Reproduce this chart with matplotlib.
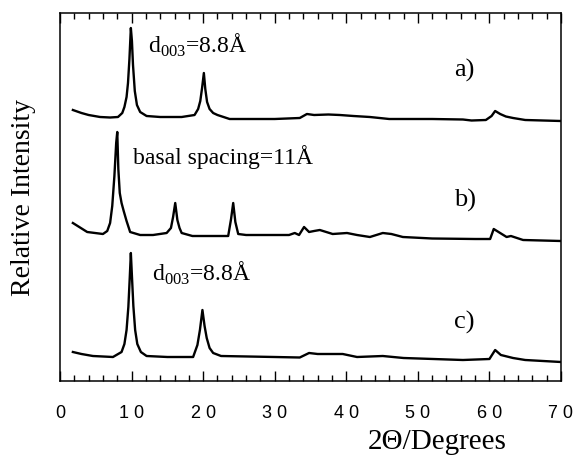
import numpy as np
import matplotlib
matplotlib.use("Agg")
import matplotlib.pyplot as plt
from matplotlib.ticker import MultipleLocator, FuncFormatter

# patterns: 2theta (deg) and intensity above each trace's own right-end level
two_theta_a = [1.8, 3.0, 4.0, 5.6, 7.0, 8.1, 8.7, 9.0, 9.3, 9.5, 9.7, 9.9, 10.05, 10.2, 10.45,
               10.75, 11.2, 12.1, 14, 17, 18.8, 19.3, 19.6, 19.85, 20.1, 20.3, 20.55, 20.9,
               21.4, 22, 23.7, 30, 33.5, 34.5, 35.5, 37.5, 39.1, 41, 43.3, 46, 52, 56.3, 57.5,
               59.5, 60.3, 60.8, 61.5, 62.3, 63.3, 65, 70]
intens_a = [11, 8, 6, 4, 3.5, 4, 8, 14, 24, 38, 62, 93, 80, 56, 30,
            16, 9, 5, 4, 4, 6, 12, 20, 33, 48, 32, 19, 12,
            8, 6, 2, 2, 3, 7, 6, 6.5, 6, 5, 4, 2, 2, 1.5, 0.5,
            1, 5, 10, 7, 4.5, 3, 1, 0]

two_theta_b = [1.8, 3.8, 6.0, 6.6, 7.0, 7.3, 7.6, 7.85, 8.0, 8.15, 8.35, 8.6, 8.9, 9.3, 9.8,
               11.2, 13, 14.9, 15.5, 15.8, 16.1, 16.4, 16.7, 17.0, 18.5, 21, 23.5, 23.9, 24.2,
               24.5, 24.9, 26, 32, 32.8, 33.4, 34.1, 34.8, 35.5, 36.3, 38.1, 40.1, 41.5, 43.3,
               45.1, 46.3, 47.9, 52, 58, 60.1, 60.6, 61.5, 62.4, 63.0, 64.7, 70]
intens_b = [18, 9, 7, 10, 18, 35, 65, 98, 109, 72, 48, 38, 30, 20, 9,
            6, 6, 8, 13, 24, 38, 21, 13, 8, 5, 5, 5, 22, 38,
            19, 7, 6, 6, 8, 6, 14, 9, 10, 11, 7, 8, 6, 4,
            8, 7, 4, 2.5, 2, 2, 12, 8, 4, 5, 1, 0]

two_theta_c = [1.8, 3.0, 4.6, 7.4, 8.6, 9.0, 9.3, 9.55, 9.75, 9.9, 10.05, 10.25, 10.5, 10.8,
               11.3, 12.1, 15, 18.6, 19.2, 19.55, 19.9, 20.2, 20.5, 20.9, 21.4, 22.5, 30, 33.5,
               34.8, 36, 39.5, 41.5, 45.1, 48, 56.3, 60.0, 60.8, 61.6, 63.3, 65, 70]
intens_c = [10, 8, 6, 5, 10, 18, 32, 55, 85, 109, 86, 56, 32, 18,
            10, 6, 5, 5, 17, 32, 52, 36, 24, 14, 9, 6, 5, 4.5,
            9, 8, 8, 5, 6, 4, 2, 3, 12, 7, 4, 2, 0]

labels = ["a)", "b)", "c)"]
offsets = [260, 140, 19]
notes = [r"$\mathrm{d}_{003}$=8.8Å", "basal spacing=11Å", r"$\mathrm{d}_{003}$=8.8Å"]

plt.rcParams['mathtext.fontset'] = 'custom'
plt.rcParams['mathtext.rm'] = 'Liberation Serif'
serif = 'Liberation Serif'

fig = plt.figure(figsize=(5.77, 4.58), dpi=100)
ax = fig.add_axes([60 / 577, 1 - 381 / 458, 501 / 577, 368 / 458])

for xs, ys, off in zip([two_theta_a, two_theta_b, two_theta_c],
                       [intens_a, intens_b, intens_c], offsets):
    ax.plot(xs, np.array(ys) + off, color='black', linewidth=1.7)

# annotations
note_x = [12.3, 10.2, 12.8]
note_y = [336, 224, 108]
lab_y = [311, 181, 59]
for i in range(3):
    ax.text(note_x[i], note_y[i], notes[i], family=serif, fontsize=17,
            ha='left', va='center')
    ax.text(55.0, lab_y[i], labels[i], family=serif, fontsize=19,
            ha='left', va='center')

ax.set_xlim(0, 70)
ax.set_ylim(0, 368)
ax.set_yticks([])
ax.xaxis.set_major_locator(MultipleLocator(10))
ax.xaxis.set_minor_locator(MultipleLocator(2))
ax.xaxis.set_major_formatter(FuncFormatter(lambda v, p: ' '.join(str(int(round(v))))))
ax.tick_params(axis='x', which='both', direction='in', top=True, bottom=True)
ax.tick_params(axis='x', which='major', length=7, width=1, pad=17)
ax.tick_params(axis='x', which='minor', length=4, width=1)
for lbl in ax.get_xticklabels():
    lbl.set_family('Liberation Sans')
    lbl.set_fontsize(13)
for sp in ax.spines.values():
    sp.set_linewidth(1.1)

ax.set_xlabel("2Θ/Degrees", family=serif, fontsize=21)
ax.xaxis.set_label_coords(377 / 501, -61 / 368)
ax.xaxis.label.set_va('center')
ax.set_ylabel("Relative Intensity", family=serif, fontsize=20)
ax.yaxis.set_label_coords(-36 / 501, 0.5)
ax.yaxis.label.set_va('center')

fig.savefig("out.png", dpi=100)
